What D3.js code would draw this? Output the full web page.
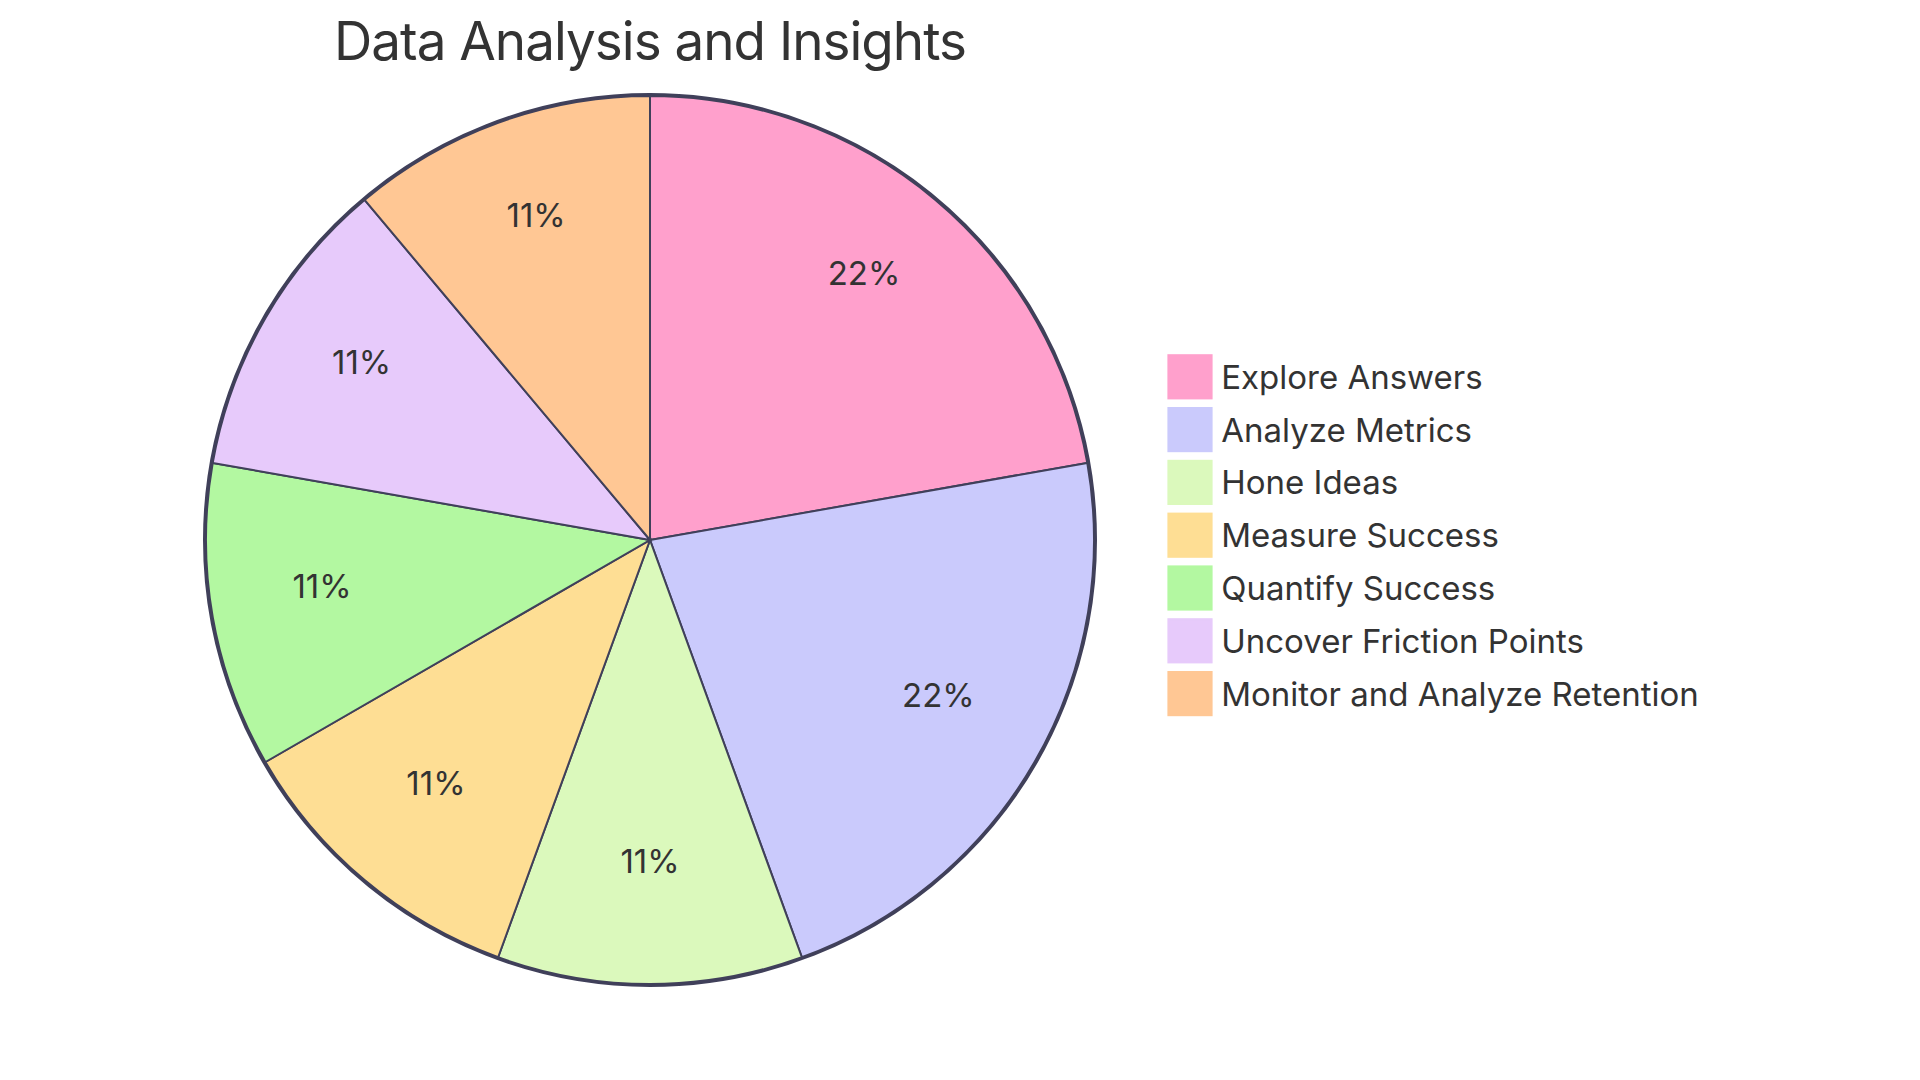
<!DOCTYPE html>
<html>
<head>
<title>pie</title>
<script type="text/javascript" src="https://cdn.jsdelivr.net/npm/d3@7"></script>
<style>
body { margin: 0; background: #fff; }
text { font-family: Inter, "Noto Sans", sans-serif; fill: #333; }
</style>
</head>
<body>
<svg width="1920" height="1080"></svg>
<script type="text/javascript">

var title = "Data Analysis and Insights";
var labels = ["Explore Answers", "Analyze Metrics", "Hone Ideas", "Measure Success", "Quantify Success", "Uncover Friction Points", "Monitor and Analyze Retention"];
var values = [2, 2, 1, 1, 1, 1, 1];
var colors = ["#ffa0cc", "#cacafc", "#dbf9bc", "#fede94", "#b3f8a1", "#e7cafb", "#ffc794"];

var k = 2.4;          // mermaid units -> px
var cx = 650, cy = 540;
var radius = 185 * k;

var svg = d3.select("svg");
var g = svg.append("g").attr("transform", "translate(" + cx + "," + cy + ")");

var total = d3.sum(values);
var pie = d3.pie().sort(null).value(function(d) { return d; });
var arcs = pie(values);

var arc = d3.arc().innerRadius(0).outerRadius(radius);
var labelArc = d3.arc().innerRadius(radius * 0.75).outerRadius(radius * 0.75);

g.append("circle")
.attr("r", radius + 1)
.attr("fill", "none")
.attr("stroke", "#40405a")
.attr("stroke-width", 4);

g.selectAll("path.slice")
.data(arcs)
.enter()
.append("path")
.attr("class", "slice")
.attr("d", arc)
.attr("fill", function(d, i) { return colors[i]; })
.attr("stroke", "#40405a")
.attr("stroke-width", 2);

g.selectAll("text.pct")
.data(arcs)
.enter()
.append("text")
.attr("class", "pct")
.attr("transform", function(d) { return "translate(" + labelArc.centroid(d) + ")"; })
.attr("text-anchor", "middle")
.style("font-size", "33px")
.text(function(d) { return (d.value / total * 100).toFixed(0) + "%"; });

svg.append("text")
.attr("x", cx)
.attr("y", 60)
.attr("text-anchor", "middle")
.style("font-size", "53px")
.style("letter-spacing", "-1px")
.text(title);

var leg = g.selectAll("g.legend")
.data(labels)
.enter()
.append("g")
.attr("class", "legend")
.attr("transform", function(d, i) { return "translate(" + (216 * k) + "," + ((i * 22 - 77) * k) + ")"; });

leg.append("rect")
.attr("width", 18 * k)
.attr("height", 18 * k)
.attr("fill", function(d, i) { return colors[i]; })
.attr("stroke", function(d, i) { return colors[i]; })
.attr("stroke-width", 2);

leg.append("text")
.attr("x", 22 * k)
.attr("y", 15 * k - 2.5)
.style("font-size", "33px")
.text(function(d) { return d; });

</script>
</body>
</html>
